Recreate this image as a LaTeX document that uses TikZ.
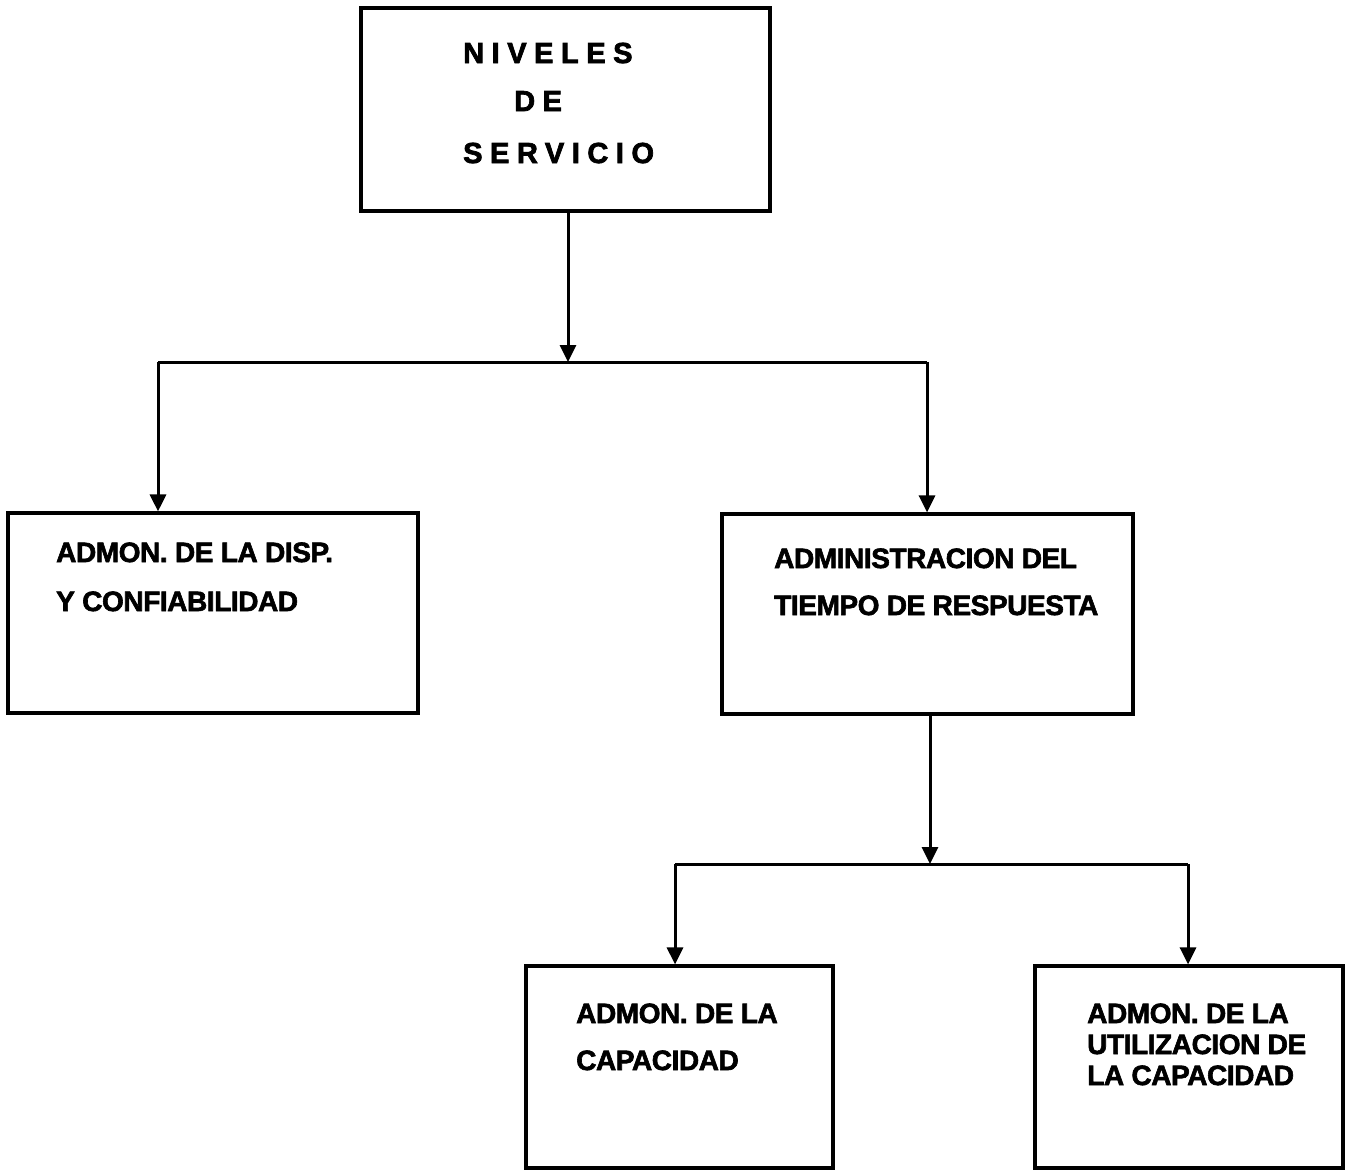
\documentclass[tikz,border=0pt]{standalone}
\usepackage{fontspec}
\setmainfont{Liberation Sans}
\usetikzlibrary{arrows.meta}
\begin{document}
\begin{tikzpicture}[x=1pt,y=-1pt,
  box/.style={draw,line width=3.2pt,rectangle,inner sep=0pt},
  label/.style={anchor=base west,inner sep=0pt,font=\fontsize{28}{28}\selectfont\bfseries\addfontfeature{FakeBold=2.2,LetterSpace=-1.5}},
  title/.style={anchor=base west,inner sep=0pt,font=\fontsize{29}{29}\selectfont\bfseries\addfontfeature{FakeBold=2.5,LetterSpace=26}},
  link/.style={line width=3pt},
  arr/.style={link,-{Triangle[width=16pt,length=17pt]}}]
\useasboundingbox (0,0) rectangle (1346,1171);

% boxes
\node[box,minimum width=409pt,minimum height=203pt] (top) at (565.5,109.5) {};
\node[box,minimum width=410pt,minimum height=200pt] (disp) at (213,613) {};
\node[box,minimum width=411pt,minimum height=200pt] (resp) at (927.5,614) {};
\node[box,minimum width=307pt,minimum height=202pt] (cap) at (679.5,1067) {};
\node[box,minimum width=308pt,minimum height=202pt] (util) at (1189,1067) {};

% texts
\node[title] (t1) at (463,63) {NIVELES};
\node[title] (t2) at (514,111) {DE};
\node[title] (t3) at (463,163) {SERVICIO};

\node[label] (d1) at (56,562) {ADMON. DE LA DISP.};
\node[label] (d2) at (56,611) {Y CONFIABILIDAD};

\node[label] (r1) at (774,568) {ADMINISTRACION DEL};
\node[label] (r2) at (774,615) {TIEMPO DE RESPUESTA};

\node[label] (c1) at (576,1023) {ADMON. DE LA};
\node[label] (c2) at (576,1070) {CAPACIDAD};

\node[label] (u1) at (1087,1023) {ADMON. DE LA};
\node[label] (u2) at (1087,1054) {UTILIZACION DE};
\node[label] (u3) at (1087,1085) {LA CAPACIDAD};

% first branching
\coordinate (j1) at (568,362);
\coordinate (j1l) at (158,362);
\coordinate (j1r) at (927,362);
\draw[arr] (top.south -| j1) -- (j1);
\draw[link] (j1l) -- (j1r);
\draw[arr] (j1l) -- (j1l |- disp.north);
\draw[arr] (j1r) -- (j1r |- resp.north);

% second branching
\coordinate (j2) at (930,864);
\coordinate (j2l) at (675,864);
\coordinate (j2r) at (1188,864);
\draw[arr] (resp.south -| j2) -- (j2);
\draw[link] (j2l) -- (j2r);
\draw[arr] (j2l) -- (j2l |- cap.north);
\draw[arr] (j2r) -- (j2r |- util.north);
\end{tikzpicture}
\end{document}
